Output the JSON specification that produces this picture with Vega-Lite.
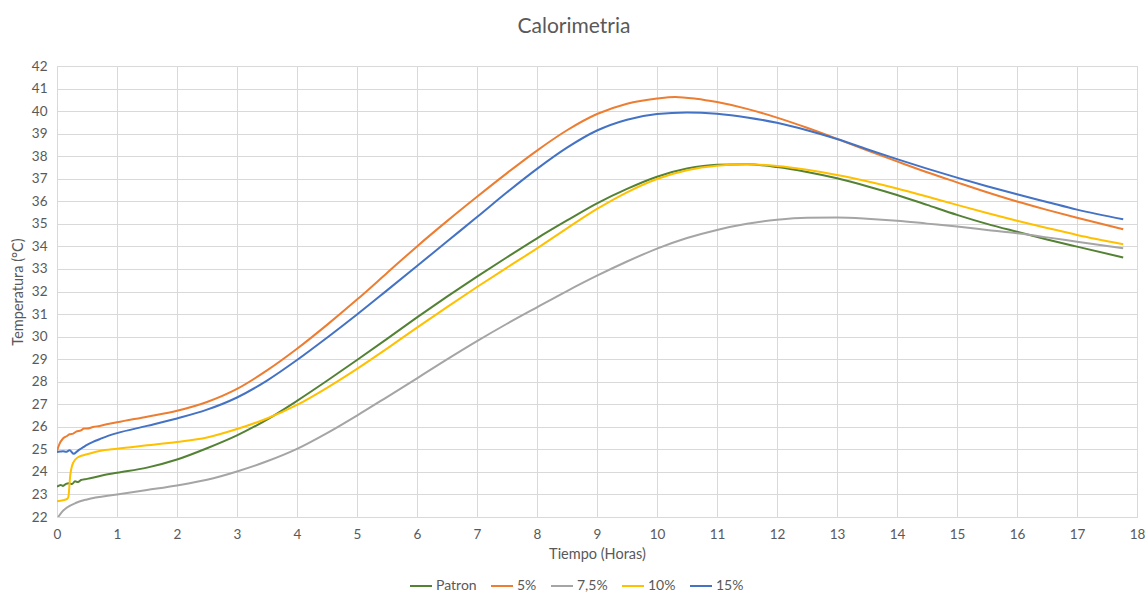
{
  "$schema": "https://vega.github.io/schema/vega-lite/v6.json",
  "width": 1080,
  "height": 451,
  "autosize": "none",
  "padding": {"left": 57, "top": 66, "right": 8, "bottom": 78},
  "background": "#ffffff",
  "title": {"text": "Calorimetria", "font": "Lato", "fontSize": 21, "fontWeight": "normal", "color": "#595959", "offset": 22, "dx": -23},
  "datasets": {
    "d": [
      {"s": "Patron", "h": 0, "t": 23.34}, {"s": "Patron", "h": 0.06, "t": 23.42}, {"s": "Patron", "h": 0.1, "t": 23.38}, {"s": "Patron", "h": 0.15, "t": 23.47}, {"s": "Patron", "h": 0.2, "t": 23.5}, {"s": "Patron", "h": 0.25, "t": 23.46}, {"s": "Patron", "h": 0.3, "t": 23.58}, {"s": "Patron", "h": 0.35, "t": 23.55}, {"s": "Patron", "h": 0.4, "t": 23.64}, {"s": "Patron", "h": 0.5, "t": 23.69}, {"s": "Patron", "h": 0.75, "t": 23.84}, {"s": "Patron", "h": 1, "t": 23.96}, {"s": "Patron", "h": 1.5, "t": 24.19}, {"s": "Patron", "h": 2, "t": 24.55}, {"s": "Patron", "h": 2.5, "t": 25.05}, {"s": "Patron", "h": 3, "t": 25.62}, {"s": "Patron", "h": 3.5, "t": 26.32}, {"s": "Patron", "h": 4, "t": 27.15}, {"s": "Patron", "h": 4.5, "t": 28.04}, {"s": "Patron", "h": 5, "t": 28.96}, {"s": "Patron", "h": 5.5, "t": 29.9}, {"s": "Patron", "h": 6, "t": 30.85}, {"s": "Patron", "h": 6.5, "t": 31.77}, {"s": "Patron", "h": 7, "t": 32.66}, {"s": "Patron", "h": 7.5, "t": 33.52}, {"s": "Patron", "h": 8, "t": 34.36}, {"s": "Patron", "h": 8.5, "t": 35.15}, {"s": "Patron", "h": 9, "t": 35.91}, {"s": "Patron", "h": 9.5, "t": 36.55}, {"s": "Patron", "h": 10, "t": 37.09}, {"s": "Patron", "h": 10.5, "t": 37.45}, {"s": "Patron", "h": 11, "t": 37.62}, {"s": "Patron", "h": 11.5, "t": 37.64}, {"s": "Patron", "h": 12, "t": 37.52}, {"s": "Patron", "h": 12.5, "t": 37.3}, {"s": "Patron", "h": 13, "t": 37.02}, {"s": "Patron", "h": 13.5, "t": 36.67}, {"s": "Patron", "h": 14, "t": 36.28}, {"s": "Patron", "h": 14.5, "t": 35.84}, {"s": "Patron", "h": 15, "t": 35.4}, {"s": "Patron", "h": 15.5, "t": 35.0}, {"s": "Patron", "h": 16, "t": 34.65}, {"s": "Patron", "h": 16.5, "t": 34.31}, {"s": "Patron", "h": 17, "t": 33.99}, {"s": "Patron", "h": 17.77, "t": 33.51},

      {"s": "5%", "h": 0, "t": 24.93}, {"s": "5%", "h": 0.04, "t": 25.23}, {"s": "5%", "h": 0.1, "t": 25.48}, {"s": "5%", "h": 0.16, "t": 25.58}, {"s": "5%", "h": 0.21, "t": 25.67}, {"s": "5%", "h": 0.27, "t": 25.7}, {"s": "5%", "h": 0.32, "t": 25.79}, {"s": "5%", "h": 0.4, "t": 25.84}, {"s": "5%", "h": 0.45, "t": 25.93}, {"s": "5%", "h": 0.5, "t": 25.92}, {"s": "5%", "h": 0.6, "t": 25.99}, {"s": "5%", "h": 0.71, "t": 26.04}, {"s": "5%", "h": 0.85, "t": 26.12}, {"s": "5%", "h": 1, "t": 26.2}, {"s": "5%", "h": 1.5, "t": 26.45}, {"s": "5%", "h": 2, "t": 26.71}, {"s": "5%", "h": 2.5, "t": 27.1}, {"s": "5%", "h": 3, "t": 27.68}, {"s": "5%", "h": 3.5, "t": 28.5}, {"s": "5%", "h": 4, "t": 29.46}, {"s": "5%", "h": 4.5, "t": 30.52}, {"s": "5%", "h": 5, "t": 31.64}, {"s": "5%", "h": 5.5, "t": 32.82}, {"s": "5%", "h": 6, "t": 34.0}, {"s": "5%", "h": 6.5, "t": 35.12}, {"s": "5%", "h": 7, "t": 36.2}, {"s": "5%", "h": 7.5, "t": 37.25}, {"s": "5%", "h": 8, "t": 38.25}, {"s": "5%", "h": 8.5, "t": 39.15}, {"s": "5%", "h": 9, "t": 39.87}, {"s": "5%", "h": 9.5, "t": 40.33}, {"s": "5%", "h": 10, "t": 40.56}, {"s": "5%", "h": 10.3, "t": 40.63}, {"s": "5%", "h": 10.65, "t": 40.55}, {"s": "5%", "h": 11, "t": 40.4}, {"s": "5%", "h": 11.5, "t": 40.1}, {"s": "5%", "h": 12, "t": 39.71}, {"s": "5%", "h": 12.5, "t": 39.26}, {"s": "5%", "h": 13, "t": 38.77}, {"s": "5%", "h": 13.5, "t": 38.26}, {"s": "5%", "h": 14, "t": 37.77}, {"s": "5%", "h": 14.5, "t": 37.29}, {"s": "5%", "h": 15, "t": 36.84}, {"s": "5%", "h": 15.5, "t": 36.4}, {"s": "5%", "h": 16, "t": 35.99}, {"s": "5%", "h": 16.5, "t": 35.62}, {"s": "5%", "h": 17, "t": 35.27}, {"s": "5%", "h": 17.77, "t": 34.76},

      {"s": "7,5%", "h": 0.02, "t": 22.0}, {"s": "7,5%", "h": 0.08, "t": 22.22}, {"s": "7,5%", "h": 0.16, "t": 22.41}, {"s": "7,5%", "h": 0.32, "t": 22.63}, {"s": "7,5%", "h": 0.5, "t": 22.78}, {"s": "7,5%", "h": 1, "t": 23.0}, {"s": "7,5%", "h": 1.5, "t": 23.2}, {"s": "7,5%", "h": 2, "t": 23.4}, {"s": "7,5%", "h": 2.5, "t": 23.65}, {"s": "7,5%", "h": 3, "t": 24.02}, {"s": "7,5%", "h": 3.5, "t": 24.47}, {"s": "7,5%", "h": 4, "t": 25.02}, {"s": "7,5%", "h": 4.5, "t": 25.72}, {"s": "7,5%", "h": 5, "t": 26.5}, {"s": "7,5%", "h": 5.5, "t": 27.32}, {"s": "7,5%", "h": 6, "t": 28.15}, {"s": "7,5%", "h": 6.5, "t": 28.99}, {"s": "7,5%", "h": 7, "t": 29.8}, {"s": "7,5%", "h": 7.5, "t": 30.57}, {"s": "7,5%", "h": 8, "t": 31.3}, {"s": "7,5%", "h": 8.5, "t": 32.02}, {"s": "7,5%", "h": 9, "t": 32.7}, {"s": "7,5%", "h": 9.5, "t": 33.33}, {"s": "7,5%", "h": 10, "t": 33.9}, {"s": "7,5%", "h": 10.5, "t": 34.37}, {"s": "7,5%", "h": 11, "t": 34.73}, {"s": "7,5%", "h": 11.5, "t": 35.0}, {"s": "7,5%", "h": 12, "t": 35.18}, {"s": "7,5%", "h": 12.5, "t": 35.27}, {"s": "7,5%", "h": 13, "t": 35.28}, {"s": "7,5%", "h": 13.5, "t": 35.23}, {"s": "7,5%", "h": 14, "t": 35.14}, {"s": "7,5%", "h": 14.5, "t": 35.01}, {"s": "7,5%", "h": 15, "t": 34.88}, {"s": "7,5%", "h": 15.5, "t": 34.73}, {"s": "7,5%", "h": 16, "t": 34.58}, {"s": "7,5%", "h": 16.5, "t": 34.4}, {"s": "7,5%", "h": 17, "t": 34.21}, {"s": "7,5%", "h": 17.77, "t": 33.92},

      {"s": "10%", "h": 0, "t": 22.7}, {"s": "10%", "h": 0.1, "t": 22.74}, {"s": "10%", "h": 0.17, "t": 22.8}, {"s": "10%", "h": 0.19, "t": 22.9}, {"s": "10%", "h": 0.22, "t": 23.82}, {"s": "10%", "h": 0.27, "t": 24.41}, {"s": "10%", "h": 0.35, "t": 24.65}, {"s": "10%", "h": 0.5, "t": 24.78}, {"s": "10%", "h": 0.71, "t": 24.93}, {"s": "10%", "h": 1, "t": 25.03}, {"s": "10%", "h": 1.5, "t": 25.18}, {"s": "10%", "h": 2, "t": 25.33}, {"s": "10%", "h": 2.5, "t": 25.53}, {"s": "10%", "h": 3, "t": 25.9}, {"s": "10%", "h": 3.5, "t": 26.37}, {"s": "10%", "h": 4, "t": 26.97}, {"s": "10%", "h": 4.5, "t": 27.73}, {"s": "10%", "h": 5, "t": 28.57}, {"s": "10%", "h": 5.5, "t": 29.47}, {"s": "10%", "h": 6, "t": 30.4}, {"s": "10%", "h": 6.5, "t": 31.31}, {"s": "10%", "h": 7, "t": 32.2}, {"s": "10%", "h": 7.5, "t": 33.06}, {"s": "10%", "h": 8, "t": 33.91}, {"s": "10%", "h": 8.5, "t": 34.8}, {"s": "10%", "h": 9, "t": 35.66}, {"s": "10%", "h": 9.5, "t": 36.4}, {"s": "10%", "h": 10, "t": 36.99}, {"s": "10%", "h": 10.5, "t": 37.38}, {"s": "10%", "h": 11, "t": 37.58}, {"s": "10%", "h": 11.5, "t": 37.64}, {"s": "10%", "h": 12, "t": 37.57}, {"s": "10%", "h": 12.5, "t": 37.4}, {"s": "10%", "h": 13, "t": 37.17}, {"s": "10%", "h": 13.5, "t": 36.89}, {"s": "10%", "h": 14, "t": 36.57}, {"s": "10%", "h": 14.5, "t": 36.21}, {"s": "10%", "h": 15, "t": 35.84}, {"s": "10%", "h": 15.5, "t": 35.48}, {"s": "10%", "h": 16, "t": 35.14}, {"s": "10%", "h": 16.5, "t": 34.82}, {"s": "10%", "h": 17, "t": 34.51}, {"s": "10%", "h": 17.77, "t": 34.1},

      {"s": "15%", "h": 0, "t": 24.88}, {"s": "15%", "h": 0.05, "t": 24.9}, {"s": "15%", "h": 0.1, "t": 24.92}, {"s": "15%", "h": 0.15, "t": 24.89}, {"s": "15%", "h": 0.21, "t": 24.96}, {"s": "15%", "h": 0.28, "t": 24.8}, {"s": "15%", "h": 0.33, "t": 24.9}, {"s": "15%", "h": 0.38, "t": 25.0}, {"s": "15%", "h": 0.44, "t": 25.1}, {"s": "15%", "h": 0.5, "t": 25.2}, {"s": "15%", "h": 0.6, "t": 25.33}, {"s": "15%", "h": 0.71, "t": 25.45}, {"s": "15%", "h": 0.85, "t": 25.6}, {"s": "15%", "h": 1, "t": 25.72}, {"s": "15%", "h": 1.5, "t": 26.04}, {"s": "15%", "h": 2, "t": 26.37}, {"s": "15%", "h": 2.5, "t": 26.76}, {"s": "15%", "h": 3, "t": 27.3}, {"s": "15%", "h": 3.5, "t": 28.05}, {"s": "15%", "h": 4, "t": 28.96}, {"s": "15%", "h": 4.5, "t": 29.95}, {"s": "15%", "h": 5, "t": 30.98}, {"s": "15%", "h": 5.5, "t": 32.05}, {"s": "15%", "h": 6, "t": 33.13}, {"s": "15%", "h": 6.5, "t": 34.22}, {"s": "15%", "h": 7, "t": 35.3}, {"s": "15%", "h": 7.5, "t": 36.4}, {"s": "15%", "h": 8, "t": 37.44}, {"s": "15%", "h": 8.5, "t": 38.38}, {"s": "15%", "h": 9, "t": 39.14}, {"s": "15%", "h": 9.5, "t": 39.62}, {"s": "15%", "h": 10, "t": 39.87}, {"s": "15%", "h": 10.5, "t": 39.94}, {"s": "15%", "h": 11, "t": 39.88}, {"s": "15%", "h": 11.5, "t": 39.72}, {"s": "15%", "h": 12, "t": 39.48}, {"s": "15%", "h": 12.5, "t": 39.15}, {"s": "15%", "h": 13, "t": 38.76}, {"s": "15%", "h": 13.5, "t": 38.31}, {"s": "15%", "h": 14, "t": 37.87}, {"s": "15%", "h": 14.5, "t": 37.45}, {"s": "15%", "h": 15, "t": 37.05}, {"s": "15%", "h": 15.5, "t": 36.67}, {"s": "15%", "h": 16, "t": 36.31}, {"s": "15%", "h": 16.5, "t": 35.97}, {"s": "15%", "h": 17, "t": 35.63}, {"s": "15%", "h": 17.77, "t": 35.2}
    ]
  },
  "data": {"name": "d"},
  "mark": {"type": "line", "interpolate": "monotone", "strokeWidth": 2, "clip": true},
  "encoding": {
    "x": {
      "field": "h", "type": "quantitative",
      "scale": {"domain": [0, 18], "nice": false, "zero": false},
      "axis": {"title": "Tiempo (Horas)", "values": [0,1,2,3,4,5,6,7,8,9,10,11,12,13,14,15,16,17,18], "labelPadding": 10, "titlePadding": 7}
    },
    "y": {
      "field": "t", "type": "quantitative",
      "scale": {"domain": [22, 42], "nice": false, "zero": false},
      "axis": {"title": "Temperatura (°C)", "values": [22,23,24,25,26,27,28,29,30,31,32,33,34,35,36,37,38,39,40,41,42], "labelPadding": 10, "titlePadding": 6}
    },
    "color": {
      "field": "s", "type": "nominal",
      "scale": {"domain": ["Patron", "5%", "7,5%", "10%", "15%"], "range": ["#548235", "#ED7D31", "#A5A5A5", "#FFC000", "#4472C4"]},
      "legend": {"title": null, "orient": "none", "legendX": 352, "legendY": 508, "direction": "horizontal", "symbolType": "stroke", "symbolSize": 484, "symbolStrokeWidth": 2, "labelFont": "Lato", "labelFontSize": 14, "labelColor": "#595959", "columnPadding": 10, "labelOffset": 3}
    }
  },
  "config": {
    "view": {"stroke": "#D9D9D9"},
    "axis": {
      "labelFont": "Lato", "labelFontSize": 13.5, "labelColor": "#595959",
      "titleFont": "Lato", "titleFontSize": 14.5, "titleFontWeight": "normal", "titleColor": "#595959",
      "gridColor": "#D9D9D9", "domainColor": "#D9D9D9", "tickSize": 0, "labelFlush": false
    }
  }
}
